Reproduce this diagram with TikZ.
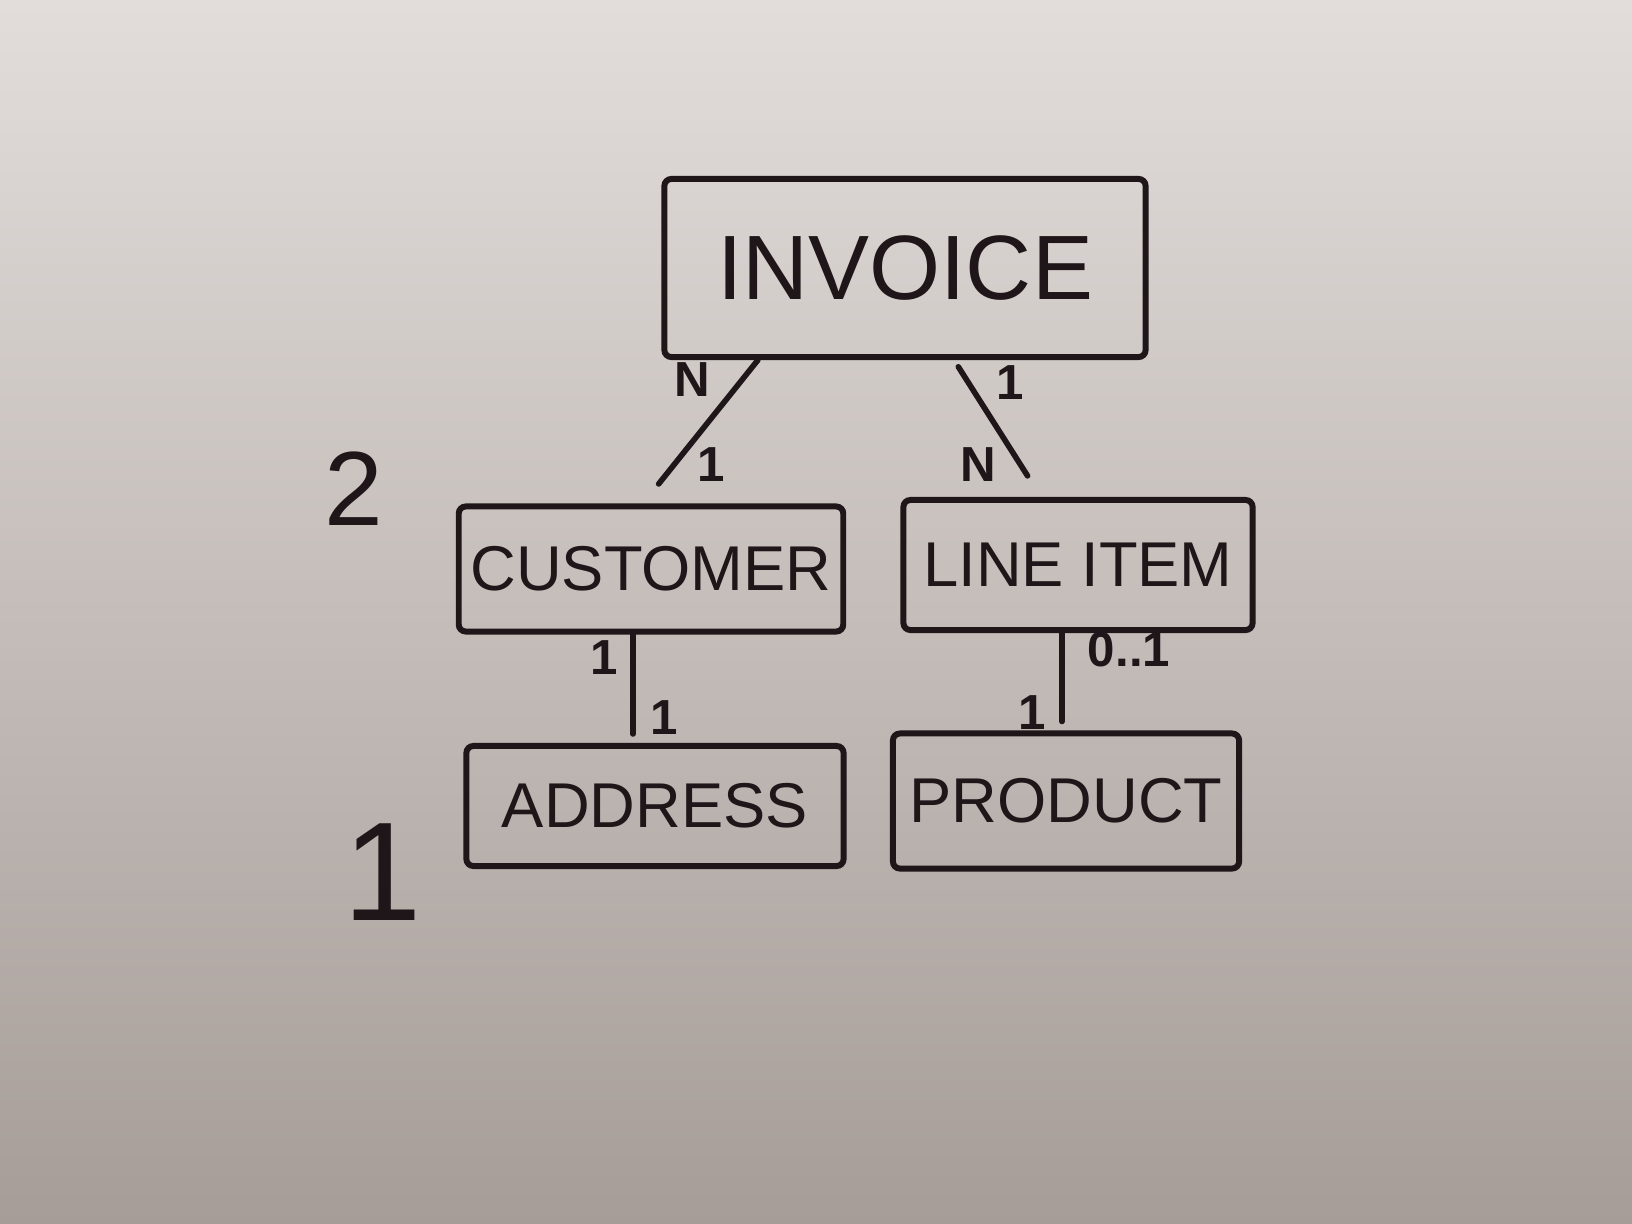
\documentclass[tikz,border=0pt]{standalone}
\usepackage{fontspec}
\setmainfont{Liberation Sans}
\usetikzlibrary{positioning}
\definecolor{wbtop}{RGB}{226,221,219}
\definecolor{wbmid}{RGB}{198,190,187}
\definecolor{wbbottom}{RGB}{166,157,152}
\definecolor{ink}{RGB}{30,22,25}
\begin{document}
\begin{tikzpicture}[x=0.01cm,y=-0.01cm,
    every path/.style={ink},
    entity/.style={draw=ink, line width=1.7pt, rounded corners=2pt, text=ink, font=\fontsize{18}{20}\selectfont},
    link/.style={draw=ink, line width=1.6pt, line cap=round},
    card/.style={text=ink, font=\fontsize{14}{16}\selectfont\bfseries, inner sep=0pt},
    level/.style={text=ink, inner sep=0pt}]
    %board
    \useasboundingbox (0,0) rectangle (1632,1224);
    \shade[top color=wbtop, middle color=wbmid, bottom color=wbbottom] (0,0) rectangle (1632,1224);

    %entities
    \node[entity, minimum width=4.81cm, minimum height=1.78cm, font=\fontsize{26}{28}\selectfont] (invoice) at (905,268) {INVOICE};
    \node[entity, minimum width=3.8cm, minimum height=1.25cm] (customer) at (651,569) {CUSTOMER};
    \node[entity, minimum width=3.49cm, minimum height=1.3cm] (lineitem) at (1078,565) {LINE ITEM};
    \node[entity, minimum width=3.77cm, minimum height=1.2cm] (address) at (655,806) {ADDRESS};
    \node[entity, minimum width=3.46cm, minimum height=1.35cm] (product) at (1066,801) {PRODUCT};

    %relations
    \draw[link, shorten >=0.25cm] ([xshift=-1.47cm]invoice.south) -- ([xshift=-0.08cm]customer.north);
    \draw[link, shorten <=0.08cm, shorten >=0.25cm] ([xshift=0.49cm]invoice.south) -- ([xshift=-0.37cm]lineitem.north);
    \draw[link, shorten >=0.09cm] ([xshift=-0.18cm]customer.south) -- ([xshift=-0.18cm]customer.south |- address.north);
    \draw[link, shorten >=0.09cm] ([xshift=-0.16cm]lineitem.south) -- ([xshift=-0.16cm]lineitem.south |- product.north);

    %cardinalities
    \node[card] (invN) at (692,380) {N};
    \node[card] (cusOne) at (711,465) {1};
    \node[card] (invOne) at (1010,383) {1};
    \node[card] (linN) at (978,465) {N};
    \node[card] (cusAddOne) at (604,658) {1};
    \node[card] (addOne) at (664,718) {1};
    \node[card] (linZeroOne) at (1129,650) {0..1};
    \node[card] (proOne) at (1032,713) {1};

    %levels
    \node[level, font=\fontsize{30}{32}\selectfont] (lvlTwo) at (354,489) {2};
    \node[level, font=\fontsize{40}{42}\selectfont] (lvlOne) at (383,872) {1};
\end{tikzpicture}
\end{document}
